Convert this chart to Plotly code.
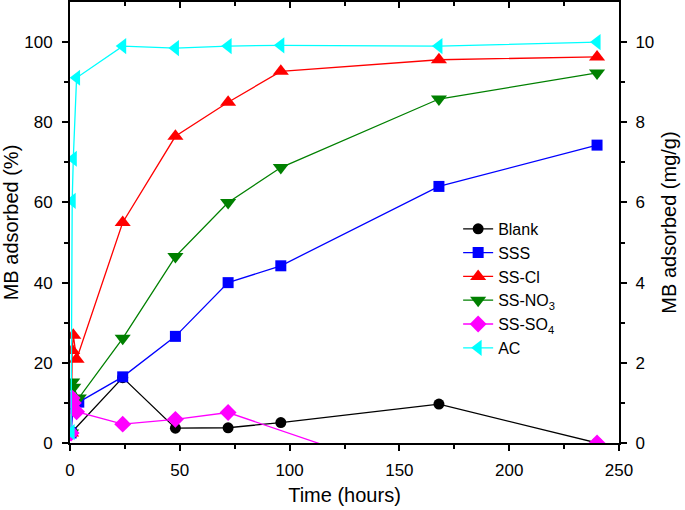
import plotly.graph_objects as go

time_h = [0.5, 1, 1.5, 3, 4, 24, 48, 72, 96, 168, 240]

blank = [None, 2.8, None, None, None, 16.3, 3.7, 3.8, 5.1, 9.7, 0]
sss = [2.5, None, 9.5, None, 10.2, 16.5, 26.6, 40.0, 44.2, 64.0, 74.3]
ss_cl = [2.5, 23.1, 26.9, 20.9, None, 55.0, 76.5, 85.0, 92.7, 95.6, 96.3]
ss_no3 = [2.5, 15.2, 13.9, None, 11.2, 26.1, 46.5, 60.0, 68.7, 85.8, 92.3]
ss_so4 = [2.5, 11.2, 10.0, 7.8, None, 4.7, 5.9, 7.6, None, -10.3, 0]
ac = [2.7, 60.4, 70.9, 91.1, None, 99.0, 98.5, 99.0, 99.2, 99.0, 100.0]

series = [
    ("Blank", blank, "black", "circle", 11),
    ("SSS", sss, "#0000FF", "square", 11),
    ("SS-Cl", ss_cl, "#FF0000", "triangle-up", 14),
    ("SS-NO<sub>3</sub>", ss_no3, "#008000", "triangle-down", 14),
    ("SS-SO<sub>4</sub>", ss_so4, "#FF00FF", "diamond", 13),
    ("AC", ac, "#00FFFF", "triangle-left", 14),
]

FONT = "Liberation Sans, Arial, sans-serif"

fig = go.Figure()
for name, vals, color, sym, sz in series:
    fig.add_trace(go.Scatter(
        x=time_h, y=vals, name=name, mode="lines+markers",
        connectgaps=True,
        line=dict(color=color, width=1.3),
        marker=dict(color=color, symbol=sym, size=sz),
    ))

# dummy trace to anchor the top and right axes
fig.add_trace(go.Scatter(x=[0], y=[0], xaxis="x2", yaxis="y2", mode="markers",
                         marker=dict(opacity=0), showlegend=False, hoverinfo="skip"))

axis_common = dict(showgrid=False, zeroline=False, showline=True, linecolor="black",
                   linewidth=2, tickcolor="black", tickwidth=1.5, automargin=False,
                   tickfont=dict(family=FONT, size=17, color="black"))

fig.update_layout(
    width=685, height=510,
    margin=dict(l=70, r=66, t=2, b=67),
    plot_bgcolor="white", paper_bgcolor="white",
    font=dict(family=FONT, color="black"),
    xaxis=dict(range=[0, 250], tickvals=[0, 50, 100, 150, 200, 250], ticks="outside", ticklen=6,
               minor=dict(tickvals=[25, 75, 125, 175, 225], ticks="outside", ticklen=4,
                          tickcolor="black", tickwidth=1.5),
               title=dict(text="Time (hours)", font=dict(family=FONT, size=20), standoff=9),
               ticklabelstandoff=5,
               **axis_common),
    xaxis2=dict(range=[0, 250], overlaying="x", side="top", anchor="y", tickvals=[0, 50, 100, 150, 200, 250],
                ticks="inside", ticklen=6, showticklabels=False,
                minor=dict(tickvals=[25, 75, 125, 175, 225], ticks="inside", ticklen=4,
                           tickcolor="black", tickwidth=1.5),
                **axis_common),
    yaxis=dict(range=[0, 110], tickvals=[0, 20, 40, 60, 80, 100], ticks="outside", ticklen=6,
               minor=dict(tickvals=[10, 30, 50, 70, 90], ticks="outside", ticklen=4,
                          tickcolor="black", tickwidth=1.5),
               title=dict(text="MB adsorbed (%)", font=dict(family=FONT, size=20), standoff=8),
               ticklabelstandoff=6,
               **axis_common),
    yaxis2=dict(range=[0, 11], overlaying="y", side="right", anchor="x", tickvals=[0, 2, 4, 6, 8, 10],
                ticks="outside", ticklen=6,
                minor=dict(tickvals=[1, 3, 5, 7, 9], ticks="outside", ticklen=4,
                           tickcolor="black", tickwidth=1.5),
                title=dict(text="MB adsorbed (mg/g)", font=dict(family=FONT, size=20), standoff=9),
                ticklabelstandoff=5,
                **axis_common),
    legend=dict(x=0.707, y=0.524, xanchor="left", yanchor="top", bgcolor="rgba(0,0,0,0)",
                font=dict(family=FONT, size=16, color="black"), tracegroupgap=0),
    showlegend=True,
)

fig.write_html("out.html", config={"displayModeBar": False},
               post_script="document.body.style.margin='0px';")
